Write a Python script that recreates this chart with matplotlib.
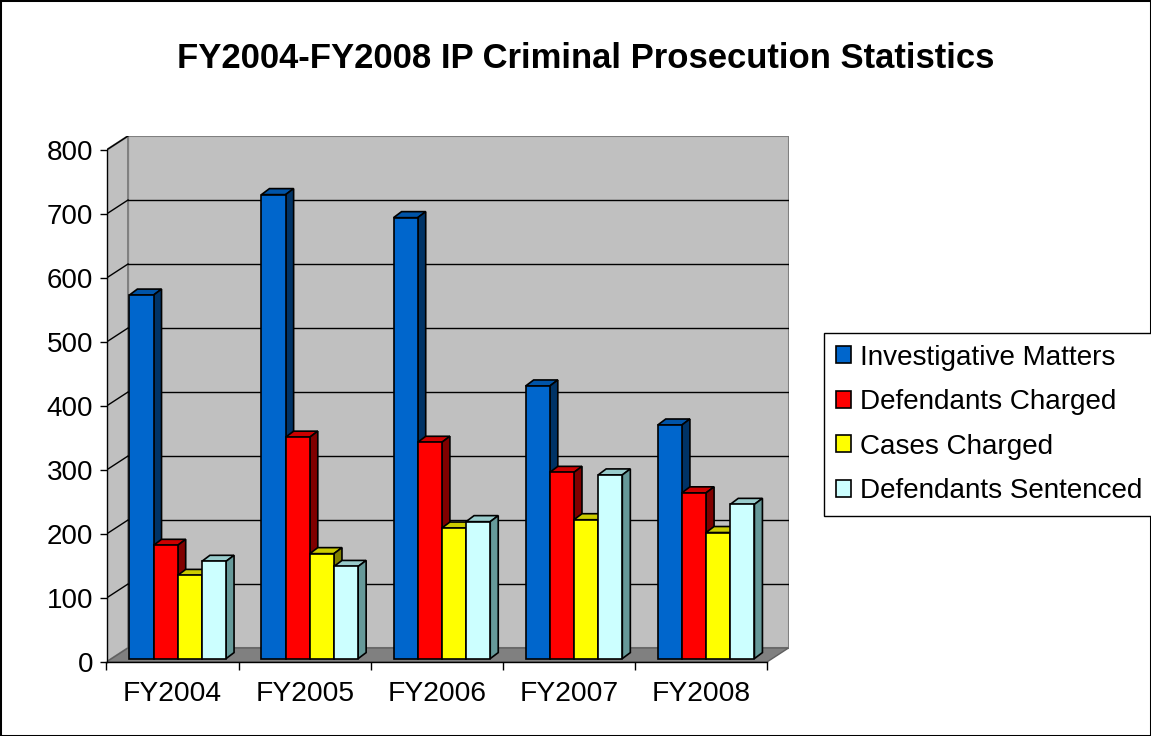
import matplotlib
matplotlib.use('Agg')
import matplotlib.pyplot as plt
from matplotlib.patches import Polygon, Rectangle, Patch
import numpy as np

plt.rcParams['font.family'] = ['Liberation Sans', 'DejaVu Sans']

# ---------------- data ----------------
categories = ['FY2004', 'FY2005', 'FY2006', 'FY2007', 'FY2008']
series_names = ['Investigative Matters', 'Defendants Charged', 'Cases Charged', 'Defendants Sentenced']
investigative_matters = [568, 725, 689, 426, 365]
defendants_charged = [177, 346, 338, 291, 259]
cases_charged = [130, 164, 204, 217, 197]
defendants_sentenced = [152, 144, 214, 287, 241]
y_ticks = [0, 100, 200, 300, 400, 500, 600, 700, 800]
title = 'FY2004-FY2008 IP Criminal Prosecution Statistics'

series_values = [investigative_matters, defendants_charged, cases_charged, defendants_sentenced]
front_colors = ['#0066CC', '#FF0000', '#FFFF00', '#CCFFFF']
top_colors = ['#0054A8', '#CC0000', '#CCCC00', '#99CCCC']
side_colors = ['#003366', '#800000', '#808000', '#669999']

# ---------------- layout ----------------
W, H = 1151, 736
fig = plt.figure(figsize=(W / 100, H / 100), dpi=100)
ax = fig.add_axes([106.5 / W, 1 - 662 / H, (788.5 - 106.5) / W, (662 - 136) / H])
ax.set_facecolor('none')

n = len(categories)
x0, x1 = -0.5, n - 0.5
ymax = y_ticks[-1]
ddx, ddy = 0.163, 21.9          # depth of the 3D box (data units)
ax.set_xlim(x0, x1 + ddx)
ax.set_ylim(0, ymax + ddy)

wall_c = '#C0C0C0'
floor_c = '#808080'
# back wall
ax.add_patch(Rectangle((x0 + ddx, ddy), x1 - x0, ymax, facecolor=wall_c,
                       edgecolor='#808080', lw=1.5, zorder=0.5))
# left side wall
ax.add_patch(Polygon([(x0, 0), (x0 + ddx, ddy), (x0 + ddx, ymax + ddy), (x0, ymax)],
                     closed=True, facecolor=wall_c, edgecolor='#808080', lw=1.5, zorder=0.5))
# floor
ax.add_patch(Polygon([(x0, 0), (x1, 0), (x1 + ddx, ddy), (x0 + ddx, ddy)],
                     closed=True, facecolor=floor_c, edgecolor='#606060', lw=1.0, zorder=0.6))
# gridlines
for v in y_ticks[1:-1]:
    ax.plot([x0 + ddx, x1 + ddx], [v + ddy, v + ddy], color='black', lw=1.0, zorder=0.8)
for v in y_ticks[1:]:
    ax.plot([x0, x0 + ddx], [v, v + ddy], color='black', lw=1.0, zorder=0.8)

# ---------------- bars ----------------
w = 0.183
fx, fy = 0.039, 5.3       # placement depth of bars' front faces
bdx, bdy = 0.0606, 9.4    # bar depth
edge_lw = 1.2
nser = len(series_values)
for i in range(n):
    for j in range(nser):
        left = i + fx - (nser / 2) * w + j * w
        z = 3 + i * 0.1 + j * 0.02
        bars = ax.bar([left], [series_values[j][i]], width=w, bottom=fy, align='edge',
                      color=front_colors[j], edgecolor='black', linewidth=edge_lw, zorder=z + 0.01)
        r = bars[0]
        xl, xr = r.get_x(), r.get_x() + r.get_width()
        yb, yt = r.get_y(), r.get_y() + r.get_height()
        ax.add_patch(Polygon([(xl, yt), (xr, yt), (xr + bdx, yt + bdy), (xl + bdx, yt + bdy)],
                             closed=True, facecolor=top_colors[j], edgecolor='black',
                             lw=edge_lw, zorder=z, joinstyle='miter'))
        ax.add_patch(Polygon([(xr, yb), (xr + bdx, yb + bdy), (xr + bdx, yt + bdy), (xr, yt)],
                             closed=True, facecolor=side_colors[j], edgecolor='black',
                             lw=edge_lw, zorder=z, joinstyle='miter'))

# ---------------- axes styling ----------------
for s in ['top', 'right']:
    ax.spines[s].set_visible(False)
ax.spines['left'].set_bounds(0, ymax)
ax.spines['bottom'].set_bounds(x0, x1)
for s in ['left', 'bottom']:
    ax.spines[s].set_color('black')
    ax.spines[s].set_linewidth(1.0)
    ax.spines[s].set_zorder(2)

ax.set_yticks(y_ticks)
ax.set_yticklabels([str(v) for v in y_ticks])
ax.tick_params(axis='y', length=5, width=1, pad=4.5, labelsize=20, colors='black')

ax.set_xticks(np.arange(x0, x1 + 0.01, 1.0))
ax.set_xticklabels([])
ax.set_xticks(np.arange(n), minor=True)
ax.set_xticklabels(categories, minor=True)
ax.tick_params(axis='x', which='major', length=6, width=1)
ax.tick_params(axis='x', which='minor', length=0, pad=13.5, labelsize=20.3)

# ---------------- title ----------------
fig.text(586 / W, 1 - 67.5 / H, title, ha='center', va='baseline',
         fontsize=24.9, fontweight='bold')

# ---------------- legend ----------------
handles = [Patch(facecolor=c, edgecolor='black', linewidth=1.2) for c in front_colors]
leg = fig.legend(handles, series_names, loc='upper left',
                 bbox_to_anchor=(824 / W, 1 - 333 / H), bbox_transform=fig.transFigure,
                 frameon=True, fancybox=False, edgecolor='black', framealpha=1,
                 fontsize=20.1, handlelength=0.56, handleheight=0.56, handletextpad=0.32,
                 labelspacing=0.66, borderpad=0.42, borderaxespad=0)
leg.get_frame().set_linewidth(1.0)

# figure border
fig.patches.append(Rectangle((0, 0), 1, 1, transform=fig.transFigure, fill=False,
                             edgecolor='black', lw=2.2))

fig.savefig('out.png', dpi=100)
